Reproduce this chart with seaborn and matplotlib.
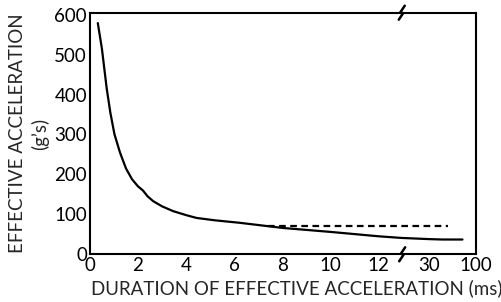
import numpy as np
import pandas as pd
import matplotlib
matplotlib.use("Agg")
import matplotlib.pyplot as plt
import seaborn as sns

# --- DATA ---
duration_ms = [0.33, 0.5, 0.7, 0.85, 1.02, 1.25, 1.5, 1.75, 2.0, 2.2, 2.4, 2.63, 3.0, 3.46,
               4.0, 4.43, 5.2, 6.2, 8.0, 10.0, 12.0, 20.0, 30.0, 50.0, 80.0]
accel_g = [579, 515, 415, 355, 301, 255, 215, 188, 170, 160, 145, 133, 120, 108,
           98, 91, 85, 79, 66, 56, 45, 41, 38, 37, 37]

limit_x = [7.4, 58.0]
limit_g = [72, 72]

x_ticks = [0, 2, 4, 6, 8, 10, 12, 30, 100]
y_ticks = [0, 100, 200, 300, 400, 500, 600]


# broken x axis: linear to 12, then compressed for 12-30 and 30-100
def fwd(x):
    x = np.asarray(x, dtype=float)
    return np.where(x <= 12, x,
                    np.where(x <= 30, 12 + (x - 12) * 2.08 / 18,
                             14.08 + (x - 30) * 1.95 / 70))


def inv(u):
    u = np.asarray(u, dtype=float)
    return np.where(u <= 12, u,
                    np.where(u <= 14.08, 12 + (u - 12) * 18 / 2.08,
                             30 + (u - 14.08) * 70 / 1.95))


sns.set_style("white")
plt.rcParams['font.family'] = ['Lato', 'DejaVu Sans']

df_curve = pd.DataFrame({"x": duration_ms, "y": accel_g})
df_limit = pd.DataFrame({"x": limit_x, "y": limit_g})

fig = plt.figure(figsize=(5.02, 3.02), dpi=100)
ax = fig.add_axes([0.179, 0.158, 0.769, 0.80])
ax.set_xscale("function", functions=(fwd, inv))

sns.lineplot(data=df_curve, x="x", y="y", ax=ax, color="black", linewidth=1.6, sort=False)
sns.lineplot(data=df_limit, x="x", y="y", ax=ax, color="black", linewidth=1.6,
             linestyle=(0, (3, 2)))

ax.set_xlim(0, 100)
ax.set_ylim(0, 605)
ax.set_xticks(x_ticks)
ax.set_xticklabels([str(t) for t in x_ticks])
ax.set_yticks(y_ticks)
ax.tick_params(direction="in", length=7.5, width=1.5, labelsize=13.5, pad=2, colors="black")
ax.xaxis.set_minor_locator(matplotlib.ticker.NullLocator())
for s in ax.spines.values():
    s.set_linewidth(1.5)
    s.set_color("black")

ax.set_xlabel("DURATION OF EFFECTIVE ACCELERATION (ms)", fontsize=13.5, labelpad=1)
ax.xaxis.set_label_coords(0.535, -0.105)
ax.set_ylabel("EFFECTIVE ACCELERATION\n(g\u2019s)", fontsize=13.5, labelpad=4, linespacing=1.3)

# axis break marks
zig = np.array([[-3, -7], [1, -1], [-1, 1], [3, 7]], dtype=float)
W, H = 0.769 * 502, 0.80 * 302
for xa, ya in [(0.808, 1.0), (0.809, 0.0)]:
    ax.plot(xa + zig[:, 0] / W, ya + zig[:, 1] / H, transform=ax.transAxes,
            color="black", linewidth=1.8, clip_on=False, solid_joinstyle="miter")

fig.savefig("out.png", dpi=100)
